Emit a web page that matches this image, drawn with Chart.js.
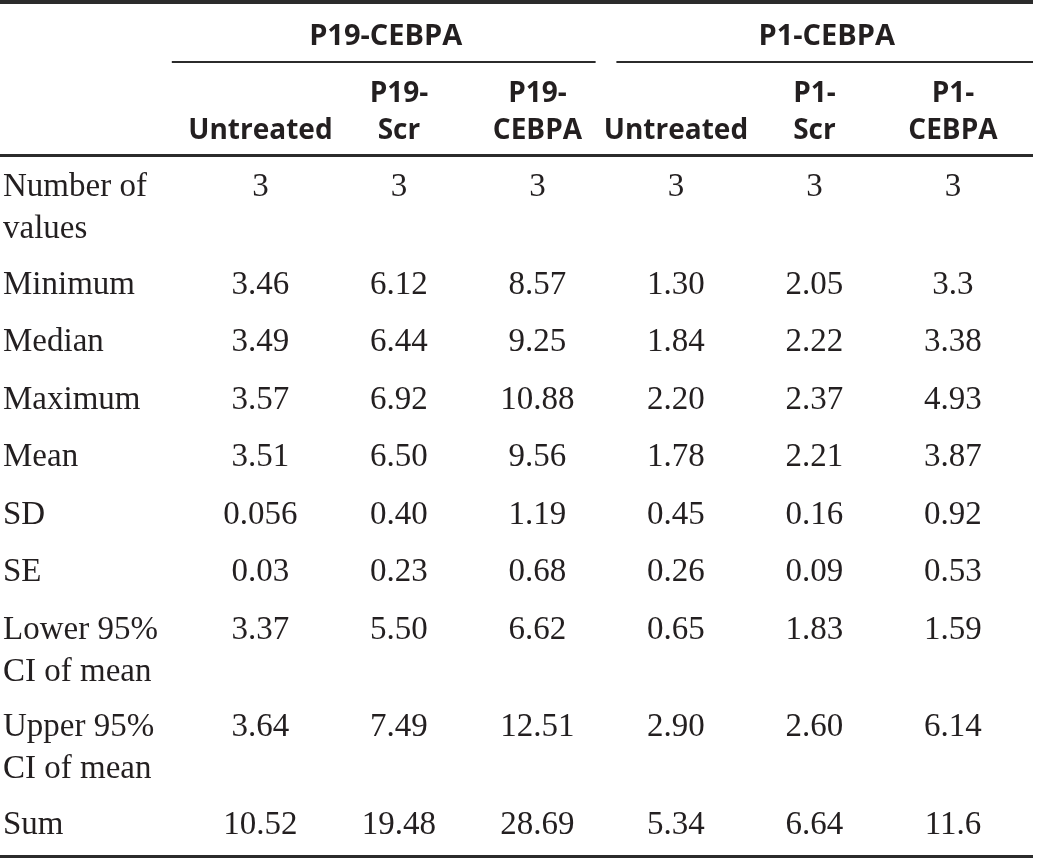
<!DOCTYPE html>
<html>
<head>
<meta charset="utf-8">
<title>Descriptive statistics</title>
<script src="https://cdn.jsdelivr.net/npm/chart.js@4.4.1/dist/chart.umd.min.js"></script>
<style>
  html, body { margin: 0; padding: 0; background: #fff; }
  #wrap { width: 1037px; height: 861px; }
</style>
</head>
<body>
<div id="wrap"><canvas id="myChart" width="1037" height="861"></canvas></div>
<script>
// Datos de la tabla
const groupNames = ['P19-CEBPA', 'P1-CEBPA'];
const groupCols = [[0, 2], [3, 5]];
const columnHeads = [['Untreated'], ['P19-', 'Scr'], ['P19-', 'CEBPA'], ['Untreated'], ['P1-', 'Scr'], ['P1-', 'CEBPA']];
const rowLabels = [
    ['Number of', 'values'], ['Minimum'], ['Median'], ['Maximum'], ['Mean'],
    ['SD'], ['SE'], ['Lower 95%', 'CI of mean'], ['Upper 95%', 'CI of mean'], ['Sum']
];

const p19Untreated = ['3', '3.46', '3.49', '3.57', '3.51', '0.056', '0.03', '3.37', '3.64', '10.52'];
const p19Scr       = ['3', '6.12', '6.44', '6.92', '6.50', '0.40', '0.23', '5.50', '7.49', '19.48'];
const p19Cebpa     = ['3', '8.57', '9.25', '10.88', '9.56', '1.19', '0.68', '6.62', '12.51', '28.69'];
const p1Untreated  = ['3', '1.30', '1.84', '2.20', '1.78', '0.45', '0.26', '0.65', '2.90', '5.34'];
const p1Scr        = ['3', '2.05', '2.22', '2.37', '2.21', '0.16', '0.09', '1.83', '2.60', '6.64'];
const p1Cebpa      = ['3', '3.3', '3.38', '4.93', '3.87', '0.92', '0.53', '1.59', '6.14', '11.6'];

const columns = [p19Untreated, p19Scr, p19Cebpa, p1Untreated, p1Scr, p1Cebpa];

// Posiciones de filas en "unidades de fila" (eje y)
const extraLine = 40 / 57.5;   // espacio extra por línea adicional
const innerLine = 42 / 57.5;   // separación entre líneas de una celda
const rowPos = [];
rowLabels.forEach((lab, i) => {
    if (i === 0) rowPos.push(0);
    else rowPos.push(rowPos[i - 1] + 1 + (rowLabels[i - 1].length - 1) * extraLine);
});

const TEXT = '#231f20';
const RULE = '#2b2b2b';
const serif = '33px "Liberation Serif", "Times New Roman", serif';
const sans = 'bold 28px "Open Sans", "Noto Sans", sans-serif';
const sansGroup = 'bold 29px "Open Sans", "Noto Sans", sans-serif';

// Plugin que dibuja la tabla usando las escalas
const tablePlugin = {
    id: 'tableCells',
    afterDraw(chart) {
        const ctx = chart.ctx;
        const xs = chart.scales.x;
        const ys = chart.scales.y;
        const right = chart.width - 4;
        ctx.save();

        function rule(y, x0, x1, w) {
            ctx.strokeStyle = RULE;
            ctx.lineWidth = w;
            ctx.beginPath();
            ctx.moveTo(x0, Math.round(y) + (w % 2 ? 0.5 : 0));
            ctx.lineTo(x1, Math.round(y) + (w % 2 ? 0.5 : 0));
            ctx.stroke();
        }

        // Líneas horizontales
        rule(ys.getPixelForValue(-3.37), 0, right, 4);
        rule(ys.getPixelForValue(-0.71), 0, right, 3);
        rule(ys.getPixelForValue(11.47), 0, right, 3);

        // Encabezados de grupo
        ctx.fillStyle = TEXT;
        ctx.textBaseline = 'alphabetic';
        ctx.textAlign = 'center';
        groupNames.forEach((g, k) => {
            const s = groupCols[k][0], e = groupCols[k][1];
            const x0 = s === 0 ? xs.getPixelForValue(-0.64) : xs.getPixelForValue(s - 0.43);
            const x1 = e === columns.length - 1 ? right : xs.getPixelForValue(e + 0.42);
            rule(ys.getPixelForValue(-2.33), x0, x1, 2);
            ctx.font = sansGroup;
            ctx.fillText(g, (x0 + x1) / 2 + 2, ys.getPixelForValue(-2.626));
        });

        // Encabezados de columna (alineados abajo)
        ctx.font = sans;
        columnHeads.forEach((lines, c) => {
            const x = xs.getPixelForValue(c);
            lines.forEach((t, j) => {
                const fromBottom = lines.length - 1 - j;
                ctx.fillText(t, x, ys.getPixelForValue(-0.991 - fromBottom * 0.644));
            });
        });

        // Etiquetas de filas
        ctx.font = serif;
        ctx.textAlign = 'left';
        rowLabels.forEach((lines, r) => {
            lines.forEach((t, j) => {
                ctx.fillText(t, 3, ys.getPixelForValue(rowPos[r] + j * innerLine));
            });
        });

        // Valores
        ctx.textAlign = 'center';
        columns.forEach((vals, c) => {
            const x = xs.getPixelForValue(c);
            vals.forEach((v, r) => {
                ctx.fillText(v, x, ys.getPixelForValue(rowPos[r]));
            });
        });

        ctx.restore();
    }
};

const ctx = document.getElementById('myChart').getContext('2d');
const myChart = new Chart(ctx, {
    type: 'bar',
    data: {
        labels: columnHeads.map(h => h.join(' ')),
        datasets: [{ label: 'Estadísticos', data: [] }]
    },
    options: {
        responsive: false,
        animation: false,
        layout: { padding: { left: 191.2, right: 14.8, top: 0, bottom: 0 } },
        plugins: { legend: { display: false }, tooltip: { enabled: false } },
        scales: {
            x: { type: 'category', offset: true, display: false },
            y: { type: 'linear', reverse: true, min: -196 / 57.5, max: -196 / 57.5 + 861 / 57.5, display: false }
        }
    },
    plugins: [tablePlugin]
});
</script>
</body>
</html>
